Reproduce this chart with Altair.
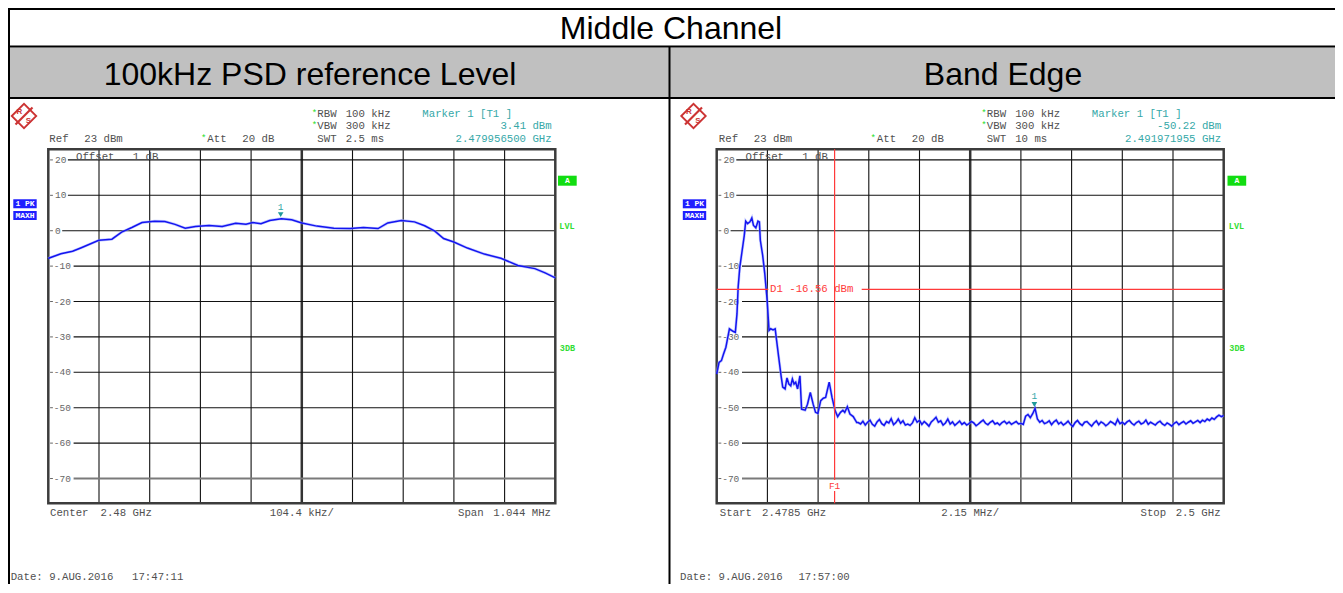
import altair as alt
import pandas as pd

OFF = 8.0
MONO = "Liberation Mono"
SANS = "Liberation Sans"

# ---------------- chart values ----------------
section_title = "Middle Channel"
panel_titles = ["100kHz PSD reference Level", "Band Edge"]

ref_level_dbm = 23
display_range_db = 100
grid_levels_dbm = [20, 10, 0, -10, -20, -30, -40, -50, -60, -70]
n_div = 10

# left panel: 100 kHz PSD reference level
psd_center_mhz = 2480.0
psd_span_mhz = 1.044
psd_freq_mhz = [2479.478, 2479.480, 2479.504, 2479.528, 2479.546, 2479.582, 2479.609, 2479.629,
                2479.650, 2479.671, 2479.697, 2479.718, 2479.739, 2479.760, 2479.781, 2479.809,
                2479.836, 2479.864, 2479.885, 2479.899, 2479.916, 2479.934, 2479.958, 2479.979,
                2480.000, 2480.031, 2480.066, 2480.100, 2480.127, 2480.157, 2480.177, 2480.205,
                2480.232, 2480.253, 2480.274, 2480.292, 2480.313, 2480.341, 2480.376, 2480.410,
                2480.445, 2480.480, 2480.501, 2480.522]
psd_level_dbm = [-7.9, -7.7, -6.5, -5.8, -4.8, -2.7, -2.4, -0.4,
                 0.9, 2.3, 2.7, 2.6, 1.8, 0.7, 1.2, 1.5,
                 1.2, 2.1, 1.8, 2.3, 2.0, 2.9, 3.4, 3.1,
                 2.2, 1.3, 0.7, 0.6, 0.9, 0.6, 2.2, 2.9,
                 2.5, 1.4, -0.1, -2.2, -3.2, -4.9, -6.6, -7.8,
                 -9.8, -10.7, -11.9, -13.3]
psd_marker_mhz = 2479.9565
psd_marker_dbm = 3.41

# right panel: band edge
be_start_mhz = 2478.5
be_stop_mhz = 2500.0
be_freq_mhz = [2478.50, 2478.53, 2478.60, 2478.70, 2478.79, 2478.89, 2478.97,
               2479.04, 2479.19, 2479.29, 2479.36, 2479.41, 2479.48, 2479.55, 2479.67, 2479.73, 2479.81, 2479.91, 2479.99,
               2480.06, 2480.16, 2480.25, 2480.31, 2480.35, 2480.45, 2480.54, 2480.64, 2480.72, 2480.79, 2480.89, 2480.98,
               2481.04, 2481.13, 2481.23, 2481.30, 2481.40, 2481.48, 2481.56, 2481.64, 2481.71, 2481.78, 2481.85, 2481.93,
               2482.03, 2482.10, 2482.25, 2482.35, 2482.47, 2482.59, 2482.69, 2482.79, 2482.91,
               2483.02, 2483.12, 2483.27, 2483.39, 2483.52, 2483.63, 2483.75, 2483.85, 2483.93,
               2484.04, 2484.15, 2484.29, 2484.44]
be_level_dbm = [-40.5, -39.5, -37.2, -36.7, -34.8, -32.9, -30.1,
                -27.7, -28.4, -28.7, -23.5, -15.9, -10.3, -7.0, -1.3, 2.7, 2.0, 2.5, 3.6,
                1.5, 0.8, 2.7, 2.5, -2.7, -7.0, -12.2, -19.7, -28.2, -27.7, -28.0, -27.7,
                -31.0, -35.8, -41.0, -44.2, -44.7, -41.6, -43.3, -43.8, -41.9, -43.3, -42.8, -44.7,
                -41.0, -50.4, -50.7, -49.0, -45.7, -49.0, -51.3, -51.6, -48.0,
                -47.3, -47.1, -42.8, -47.1, -50.8, -52.5, -51.3, -50.7, -51.3,
                -49.7, -51.8, -52.5, -54.2]
be_floor_start_mhz = 2484.5
be_floor_step_mhz = 0.1
be_floor_dbm = [
    -54.2, -54.6, -53.8, -54.9, -54.1, -53.5, -54.7, -55.2, -54.0, -53.3,
    -54.5, -55.0, -53.9, -54.3, -53.1, -54.8, -54.2, -53.2, -54.4, -53.7,
    -54.9, -54.6, -55.0, -54.3, -52.8, -54.1, -53.6, -54.7, -53.9, -54.5,
    -55.2, -54.0, -53.4, -52.7, -54.1, -53.7, -54.9, -54.3, -53.2, -54.6,
    -54.0, -55.0, -54.4, -53.8, -54.7, -54.2, -54.9, -54.5, -53.9, -54.3,
    -55.1, -54.6, -54.0, -53.5, -54.4, -54.8, -54.1, -53.7, -54.6, -54.3,
    -54.9, -54.2, -53.8, -54.5, -54.0, -54.7, -54.3, -53.9, -54.6, -54.4,
    -54.7, -52.4, -51.9, -52.8, -51.7, -50.2, -53.2, -54.1, -53.6, -54.5,
    -54.2, -53.7, -54.8, -54.0, -53.5, -54.6, -54.1, -54.9, -54.4, -53.8,
    -54.7, -55.3, -54.2, -53.6, -54.5, -55.0, -54.1, -53.9, -54.6, -55.2,
    -54.3, -53.7, -54.8, -54.0, -54.4, -55.1, -54.6, -53.9, -54.3, -54.8,
    -53.3, -54.5, -54.1, -54.7, -54.0, -53.6, -54.4, -54.9, -54.2, -53.8,
    -54.6, -54.3, -53.5, -54.7, -54.1, -54.5, -54.9, -54.2, -53.8, -54.6,
    -55.0, -54.3, -54.7, -55.2, -54.4, -54.0, -54.8, -54.3, -53.9, -54.6,
    -54.1, -53.7, -54.4, -54.0, -53.6, -54.2, -53.5, -53.9, -53.2, -53.6,
    -52.9, -53.3, -52.6, -52.1, -52.5, -52.2,
]
be_marker_mhz = 2491.971955
be_marker_dbm = -50.22
be_d1_dbm = -16.56
be_f1_mhz = 2483.5

date_stamps = [("Date: 9.AUG.2016", "17:47:11"), ("Date: 9.AUG.2016", "17:57:00")]

assert len(psd_freq_mhz) == len(psd_level_dbm)
assert len(be_freq_mhz) == len(be_level_dbm)

# ---------------- styling / layout ----------------
GRAY_TXT = "#505050"
TEAL = "#35a8a8"
GREEN = "#22dd22"
BLUE_BOX = "#1f1fff"
TRACE = "#1414f0"
RED = "#ff3a3a"

Y_TOP, Y_BOT = 149.3, 503.3
PANELS = [dict(x0=48.3, x1=555.3, dx=0.0), dict(x0=716.7, x1=1223.7, dx=669.5)]
PX = dict(scale=None, axis=None)


def ysc():
    return alt.Scale(domain=[ref_level_dbm - display_range_db, ref_level_dbm],
                     range=[Y_BOT - OFF, Y_TOP - OFF], nice=False, zero=False)


def xsc(d0, d1, p):
    return alt.Scale(domain=[d0, d1], range=[p["x0"] - OFF, p["x1"] - OFF], nice=False, zero=False)


def ptext(items, size=10.7, color=GRAY_TXT, align="left", font=MONO, weight="normal"):
    df = pd.DataFrame({"x": [i[0] - OFF for i in items],
                       "y": [i[1] - OFF for i in items],
                       "t": [i[2] for i in items]})
    return alt.Chart(df).mark_text(align=align, baseline="middle", font=font, fontSize=size,
                                   color=color, fontWeight=weight).encode(
        x=alt.X("x:Q", **PX), y=alt.Y("y:Q", **PX), text="t:N")


def prect(items, fill):
    df = pd.DataFrame({"x": [i[0] - OFF for i in items], "y": [i[1] - OFF for i in items],
                       "x2": [i[2] - OFF for i in items], "y2": [i[3] - OFF for i in items]})
    return alt.Chart(df).mark_rect(color=fill).encode(
        x=alt.X("x:Q", **PX), x2="x2:Q", y=alt.Y("y:Q", **PX), y2="y2:Q")


def plines(items, color, width):
    df = pd.DataFrame({"x": [i[0] - OFF for i in items], "y": [i[1] - OFF for i in items],
                       "x2": [i[2] - OFF for i in items], "y2": [i[3] - OFF for i in items]})
    return alt.Chart(df).mark_rule(color=color, strokeWidth=width).encode(
        x=alt.X("x:Q", **PX), x2="x2:Q", y=alt.Y("y:Q", **PX), y2="y2:Q")


def panel(p, d0, d1, tf, tl, mk_f, mk_l):
    xs = xsc(d0, d1, p)
    dx = p["dx"]
    L = []
    lo = ref_level_dbm - display_range_db
    step = (d1 - d0) / n_div
    ks = list(range(1, n_div))
    vg = pd.DataFrame({"f": [d0 + k * step for k in ks], "top": ref_level_dbm, "bot": lo,
                       "w": [2.5 if k == 5 else 1.1 for k in ks],
                       "c": ["#333333" if k == 5 else "#111111" for k in ks]})
    L.append(alt.Chart(vg).mark_rule().encode(
        x=alt.X("f:Q", scale=xs, axis=None), y=alt.Y("top:Q", scale=ysc(), axis=None), y2="bot:Q",
        strokeWidth=alt.StrokeWidth("w:Q", scale=None), color=alt.Color("c:N", scale=None)))

    lab_x = p["x0"] + 6.7
    hg = pd.DataFrame({"db": grid_levels_dbm})
    hg["xs"] = [lab_x + 5.7 * len(str(g)) + 1.5 - OFF for g in grid_levels_dbm]
    hg["xe"] = p["x1"] - OFF
    hg["w"] = [2.0 if g == -70 else 1.1 for g in grid_levels_dbm]
    hg["c"] = ["#7a7a7a" if g == -70 else "#111111" for g in grid_levels_dbm]
    hg["lx"] = [lab_x - (1.2 if g < 0 else 0) - OFF for g in grid_levels_dbm]
    hg["t0"] = p["x0"] + 1.8 - OFF
    hg["t1"] = p["x0"] + 4.6 - OFF
    hg["lab"] = [str(g) for g in grid_levels_dbm]
    L.append(alt.Chart(hg).mark_rule().encode(
        x=alt.X("xs:Q", **PX), x2="xe:Q", y=alt.Y("db:Q", scale=ysc(), axis=None),
        strokeWidth=alt.StrokeWidth("w:Q", scale=None), color=alt.Color("c:N", scale=None)))
    L.append(alt.Chart(hg).mark_rule(color="#666666", strokeWidth=1).encode(
        x=alt.X("t0:Q", **PX), x2="t1:Q", y=alt.Y("db:Q", scale=ysc(), axis=None)))
    L.append(alt.Chart(hg).mark_text(align="left", baseline="middle", font=MONO, fontSize=9.5,
                                     color="#666666").encode(
        x=alt.X("lx:Q", **PX), y=alt.Y("db:Q", scale=ysc(), axis=None), text="lab:N"))

    fr = pd.DataFrame({"a": [d0], "b": [d1], "lo": [lo], "hi": [ref_level_dbm]})
    L.append(alt.Chart(fr).mark_rect(fillOpacity=0, stroke="#3c3c3c", strokeWidth=2.5).encode(
        x=alt.X("a:Q", scale=xs, axis=None), x2="b:Q",
        y=alt.Y("lo:Q", scale=ysc(), axis=None), y2="hi:Q"))

    tr = pd.DataFrame({"f": tf, "db": tl})
    L.append(alt.Chart(tr).mark_line(color="#9aa6ff", strokeWidth=2.8, opacity=0.6).encode(
        x=alt.X("f:Q", scale=xs, axis=None), y=alt.Y("db:Q", scale=ysc(), axis=None)))
    L.append(alt.Chart(tr).mark_line(color=TRACE, strokeWidth=1.5).encode(
        x=alt.X("f:Q", scale=xs, axis=None), y=alt.Y("db:Q", scale=ysc(), axis=None)))

    mk = pd.DataFrame({"f": [mk_f], "db": [mk_l], "t": ["1"]})
    L.append(alt.Chart(mk).mark_point(shape="triangle-down", filled=True, size=32, color="#1f9a9a",
                                      opacity=1, yOffset=-4).encode(
        x=alt.X("f:Q", scale=xs, axis=None), y=alt.Y("db:Q", scale=ysc(), axis=None)))
    L.append(alt.Chart(mk).mark_text(font=MONO, fontSize=9.5, color=TEAL, yOffset=-12,
                                     baseline="middle").encode(
        x=alt.X("f:Q", scale=xs, axis=None), y=alt.Y("db:Q", scale=ysc(), axis=None), text="t:N"))

    # instrument annotations (R&S screen texts)
    L.append(plines([(15.5 + dx, 124.5, 32.5 + dx, 107.5)], "#cc3333", 2.2))
    logo = pd.DataFrame({"x": [24 + dx - OFF], "y": [116 - OFF]})
    L.append(alt.Chart(logo).mark_point(shape="diamond", size=600, color="#cc3333", strokeWidth=1.8,
                                        opacity=1).encode(x=alt.X("x:Q", **PX), y=alt.Y("y:Q", **PX)))
    L.append(ptext([(19.5 + dx, 111.5, "R"), (28.5 + dx, 121, "S")], size=8, color="#cc3333",
                   align="center", font=SANS, weight="bold"))
    L.append(ptext([(311.7 + dx, 112.5, "*"), (311.7 + dx, 125, "*"), (201 + dx, 138, "*")],
                   size=9, color=GREEN))
    L.append(ptext([(49.3 + dx, 139.3, "Ref"), (84.3 + dx, 139.3, f"{ref_level_dbm} dBm"),
                    (207.3 + dx, 139.3, "Att"), (242.3 + dx, 139.3, "20 dB"),
                    (317.3 + dx, 113.7, "RBW"), (345.7 + dx, 113.7, "100 kHz"),
                    (317.3 + dx, 126.3, "VBW"), (345.7 + dx, 126.3, "300 kHz"),
                    (317.3 + dx, 139.3, "SWT"),
                    (76 + dx, 156.7, "Offset"), (132.7 + dx, 156.7, "1 dB")]))
    L.append(ptext([(422.3 + dx, 113.7, "Marker 1 [T1 ]")], color=TEAL))
    L.append(ptext([(551.7 + dx, 126.3, f"{mk_l:.2f} dBm"),
                    (551.7 + dx, 139.3, f"{mk_f / 1000:.9f} GHz")], color=TEAL, align="right"))
    L.append(prect([(13.3 + dx, 199.3, 36.7 + dx, 208.3), (13.3 + dx, 211, 36.7 + dx, 220)], BLUE_BOX))
    L.append(ptext([(25 + dx, 203.8, "1 PK"), (25 + dx, 215.5, "MAXH")], size=8, color="#ffffff",
                   align="center", weight="bold"))
    L.append(prect([(558 + dx, 175.7, 576.7 + dx, 185.7)], "#11dd11"))
    L.append(ptext([(567.3 + dx, 180.7, "A")], size=8, color="#ffffff", align="center", weight="bold"))
    L.append(ptext([(559.3 + dx, 225.7, "LVL"), (559.8 + dx, 347.7, "3DB")], size=8.5, color="#33dd33",
                   weight="bold"))
    return L


layers = []
# table structure
layers.append(prect([(8, 47.5, 1335, 97.2)], "#c0c0c0"))
layers.append(plines([(8, 9, 1335, 9), (8, 46.5, 1335, 46.5), (8, 98, 1335, 98)], "#000000", 2))
layers.append(plines([(669.5, 46, 669.5, 593), (9, 8, 9, 593)], "#000000", 2))
layers.append(ptext([(671, 29, section_title)], size=32, color="#000000", align="center", font=SANS))
layers.append(ptext([(310, 75, panel_titles[0]), (1003, 75, panel_titles[1])], size=32,
                    color="#000000", align="center", font=SANS))

# left spectrum
psd_d0 = psd_center_mhz - psd_span_mhz / 2
psd_d1 = psd_center_mhz + psd_span_mhz / 2
layers += panel(PANELS[0], psd_d0, psd_d1, psd_freq_mhz, psd_level_dbm, psd_marker_mhz, psd_marker_dbm)
layers.append(ptext([(50, 513.3, "Center"), (100.5, 513.3, f"{psd_center_mhz / 1000:.2f} GHz"),
                     (458, 513.3, "Span")]))
layers.append(ptext([(301.8, 513.3, f"{psd_span_mhz * 1000 / n_div:.1f} kHz/")], align="center"))
layers.append(ptext([(551, 513.3, f"{psd_span_mhz:.3f} MHz")], align="right"))
layers.append(ptext([(345.7, 139.3, "2.5 ms"), (10.7, 577.3, date_stamps[0][0]),
                     (132, 577.3, date_stamps[0][1])]))

# right spectrum
floor_f = [round(be_floor_start_mhz + i * be_floor_step_mhz, 2) for i in range(len(be_floor_dbm))]
be_f = be_freq_mhz + floor_f
be_l = be_level_dbm + be_floor_dbm
pr = PANELS[1]
layers += panel(pr, be_start_mhz, be_stop_mhz, be_f, be_l, be_marker_mhz, be_marker_dbm)
layers.append(ptext([(719.8, 513.3, "Start"), (762, 513.3, f"{be_start_mhz / 1000:.4f} GHz"),
                     (1140.5, 513.3, "Stop")]))
layers.append(ptext([(970.2, 513.3, f"{(be_stop_mhz - be_start_mhz) / n_div:.2f} MHz/")], align="center"))
layers.append(ptext([(1220.6, 513.3, f"{be_stop_mhz / 1000:.1f} GHz")], align="right"))
layers.append(ptext([(1015.2, 139.3, "10 ms"), (680, 577.3, date_stamps[1][0]),
                     (798.4, 577.3, date_stamps[1][1])]))

xs_r = xsc(be_start_mhz, be_stop_mhz, pr)
d1 = pd.DataFrame({"db": [be_d1_dbm, be_d1_dbm], "xs": [pr["x0"] - OFF, 861.7 - OFF],
                   "xe": [768.3 - OFF, pr["x1"] - OFF]})
layers.append(alt.Chart(d1).mark_rule(color=RED, strokeWidth=1.2).encode(
    x=alt.X("xs:Q", **PX), x2="xe:Q", y=alt.Y("db:Q", scale=ysc(), axis=None)))
d1l = pd.DataFrame({"db": [be_d1_dbm], "x": [770 - OFF], "t": [f"D1 {be_d1_dbm:.2f} dBm"]})
layers.append(alt.Chart(d1l).mark_text(align="left", baseline="middle", font=MONO, fontSize=10.7,
                                       color=RED).encode(
    x=alt.X("x:Q", **PX), y=alt.Y("db:Q", scale=ysc(), axis=None), text="t:N"))
f1 = pd.DataFrame({"f": [be_f1_mhz, be_f1_mhz], "ya": [Y_TOP - OFF, 491 - OFF], "yb": [480 - OFF, Y_BOT - OFF]})
layers.append(alt.Chart(f1).mark_rule(color=RED, strokeWidth=1.2).encode(
    x=alt.X("f:Q", scale=xs_r, axis=None), y=alt.Y("ya:Q", **PX), y2="yb:Q"))
f1l = pd.DataFrame({"f": [be_f1_mhz], "y": [485.5 - OFF], "t": ["F1"]})
layers.append(alt.Chart(f1l).mark_text(align="center", baseline="middle", font=MONO, fontSize=9.5,
                                       color=RED).encode(
    x=alt.X("f:Q", scale=xs_r, axis=None), y=alt.Y("y:Q", **PX), text="t:N"))

chart = alt.layer(*layers).resolve_scale(
    x="independent", y="independent", color="independent", strokeWidth="independent"
).properties(
    width=1327, height=576, padding=0, autosize=alt.AutoSizeParams(type="none")
).configure_view(stroke=None)

chart.save("out.html", embed_options={"renderer": "svg", "actions": False})
